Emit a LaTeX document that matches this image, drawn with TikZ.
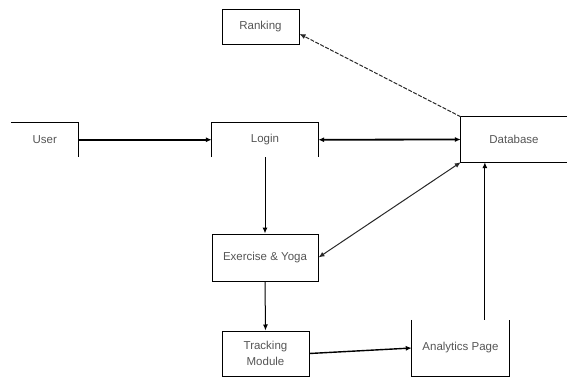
\documentclass[tikz,border=0pt]{standalone}
\usepackage{fontspec}
\setmainfont{Liberation Sans}
\usetikzlibrary{arrows.meta,calc}
\definecolor{labelgray}{RGB}{85,85,85}
\definecolor{linegray}{RGB}{40,40,40}
\tikzset{
  >={Latex[length=6pt,width=5pt]},
  block/.style={inner sep=0pt, align=center, text=labelgray, font=\fontsize{11.5}{16}\selectfont},
  boxed/.style={block, draw, line width=1pt},
  border/.style={line width=1pt},
  flow/.style={->, line width=1pt},
  bigflow/.style={->, line width=1.8pt}
}
\begin{document}
\begin{tikzpicture}[x=1pt,y=-1pt]
    \useasboundingbox (0,0) rectangle (570,377);

    \node[block, minimum width=67.5, minimum height=34.5] (user) at (44.75,139.75) {User};
    \node[block, minimum width=106, minimum height=34.5] (login) at (265,139.75) {Login};
    \node[boxed, minimum width=77, minimum height=35] (rank) at (260.5,27) {Ranking};
    \node[block, minimum width=106, minimum height=45] (db) at (514,139.5) {Database};
    \node[boxed, minimum width=106, minimum height=47] (ex) at (265,257.5) {Exercise \& Yoga};
    \node[boxed, minimum width=87, minimum height=45] (track) at (265.5,353.5) {Tracking\\Module};
    \node[block, minimum width=97, minimum height=56] (anal) at (460.5,348) {Analytics Page};

    % open sides
    \draw[border] (user.north west) -- (user.north east) -- (user.south east);
    \draw[border] (login.south west) -- (login.north west) -- (login.north east) -- (login.south east);
    \draw[border] (db.north east) -- (db.north west) -- (db.south west) -- (db.south east);
    \draw[border] (anal.north west) -- (anal.south west) -- (anal.south east) -- (anal.north east);

    \draw[bigflow] (user.east) -- (login.west);
    \draw[bigflow, <->] (login.east) -- (db.west);
    \draw[flow, linegray, dash pattern=on 4pt off 1.5pt] (db.north west) -- (rank.-10);
    \draw[flow, linegray, <->] (db.south west) -- (ex.east);
    \draw[flow] (login.south) -- (ex.north);
    \draw[flow] (ex.south) -- (track.north);
    \draw[flow, line width=1.4pt] (track.east) -- (anal.west);

    \coordinate (analtop) at ($(anal.north)!.5!(anal.north east)$);
    \draw[flow] (analtop) -- (analtop |- db.south);
\end{tikzpicture}
\end{document}
